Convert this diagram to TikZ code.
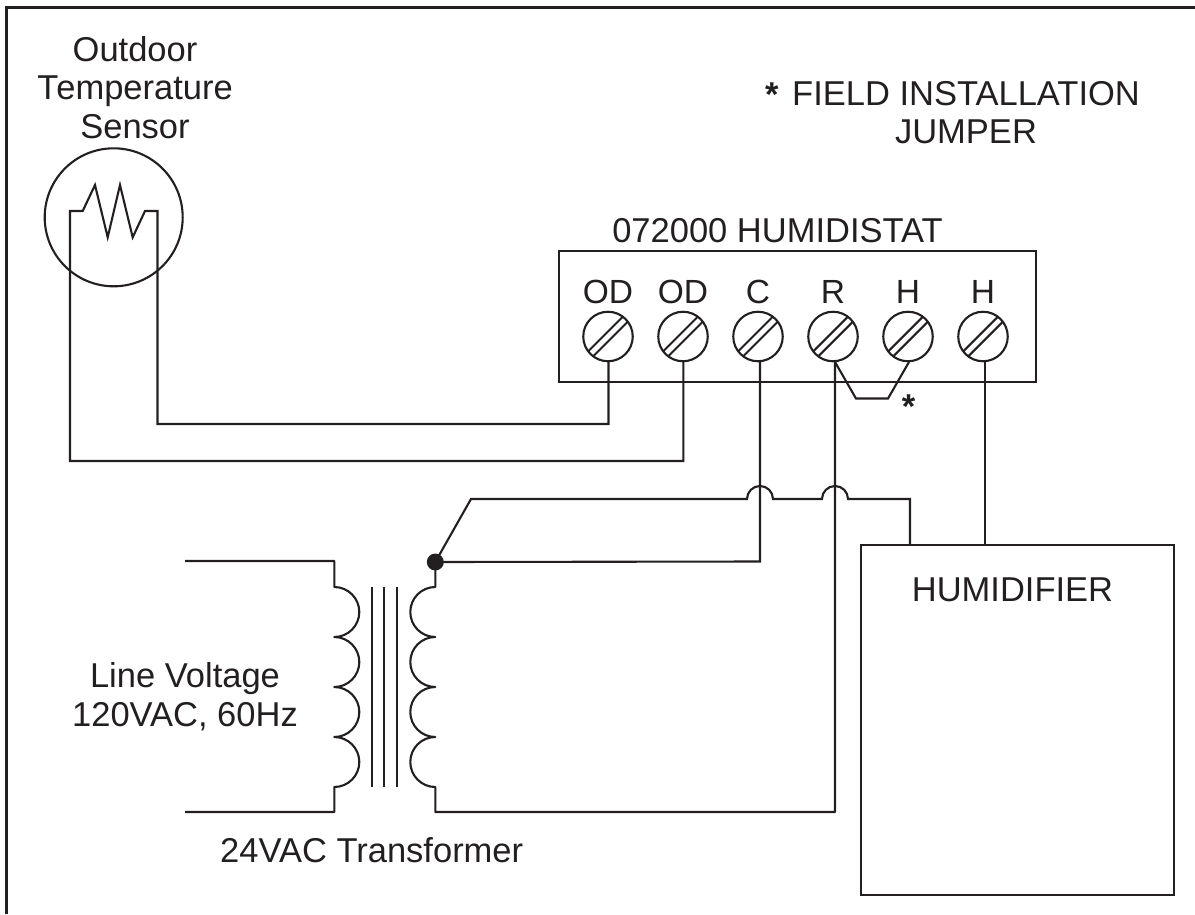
\documentclass[tikz,border=0pt]{standalone}
\usepackage{fontspec}
\setmainfont{Liberation Sans}
\usetikzlibrary{calc}
\definecolor{ink}{RGB}{35,31,32}
\tikzset{
  x=1pt,y=-1pt,
  wire/.style={draw=ink,line width=2.1pt,line join=miter},
  coil/.style={draw=ink,line width=2.1pt,line join=round},
  label/.style={text=ink,font=\fontsize{34.5pt}{38.5pt}\selectfont,inner sep=0pt,align=center},
  screw/.style={circle,draw=ink,line width=2.1pt,minimum size=49.5pt,inner sep=0pt,fill=white},
  terminal/.style={anchor=base,text=ink,font=\fontsize{33.5pt}{39.5pt}\selectfont,inner sep=0pt},
  boxed/.style={rectangle,draw=ink,line width=2.2pt,inner sep=0pt,anchor=north west},
}
\begin{document}
\begin{tikzpicture}
\useasboundingbox (0,0) rectangle (1195,914);
\coordinate (fbl) at (6.5,914);
\coordinate (ftl) at (6.5,7.5);
\coordinate (ftr) at (1195,7.5);
\draw[wire,line width=2.3pt] (fbl) -- (ftl) -- (ftr);
% sensor
\node[circle,draw=ink,line width=2.1pt,minimum size=138pt,inner sep=0pt] (sensor) at (113.7,217.3) {};
\node[label,anchor=base] (sensorlabel) at (135,138) {Outdoor\\T\kern-2pt emperature\\Sensor};
% humidistat
\node[boxed,minimum width=477pt,minimum height=131pt] (stat) at (558,250) {};
\node[label,anchor=base] (statlabel) at (777.5,242) {072000 HUMIDISTAT};
\foreach \n/\xx/\t in {1/608/OD,2/683/OD,3/758/C,4/833/R,5/908/H,6/983/H}{
  \node[screw] (s\n) at (\xx,336.5) {};
  \node[terminal] (t\n) at (\xx,303) {\t};
  \draw[wire,line cap=butt] ($(s\n)+(-20,15)$) -- ($(s\n)+(15,-20)$);
  \draw[wire,line cap=butt] ($(s\n)+(-15,20)$) -- ($(s\n)+(20,-15)$);
}
% transformer
\coordinate (lt) at (185,561);
\coordinate (lb) at (185,812);
\draw[coil] (lt) -- (334.3,561) -- (334.3,587)
  arc[start angle=-90,end angle=90,radius=25] arc[start angle=-90,end angle=90,radius=25]
  arc[start angle=-90,end angle=90,radius=25] arc[start angle=-90,end angle=90,radius=25]
  -- (334.3,812) -- (lb);
\foreach \xx in {371.7,384.3,397}{\draw[wire] (\xx,587) -- (\xx,787);}
\node[circle,fill=ink,minimum size=17pt,inner sep=0pt] (dot) at (435.3,562) {};
\draw[coil] (dot.center) -- (435.3,587)
  arc[start angle=-90,end angle=-270,radius=25] arc[start angle=-90,end angle=-270,radius=25]
  arc[start angle=-90,end angle=-270,radius=25] arc[start angle=-90,end angle=-270,radius=25]
  -- (435.3,812) -- (835,812) -- (835,362);
\draw[wire] (dot.center) -- (760,561.5) -- (760,362);
% humidifier
\node[boxed,minimum width=313pt,minimum height=350pt] (hum) at (860,544) {};
\node[label,anchor=base] (humlabel) at (1012.5,601) {HUMIDIFIER};
\draw[wire] (dot.center) -- (471,499) -- (747,499)
  arc[start angle=180,end angle=360,radius=13] -- (822,499)
  arc[start angle=180,end angle=360,radius=13] -- (910,499) -- (910,544);
\draw[wire] (985,362) -- (985,544);
% sensor wires
\draw[wire] (608.5,362) -- (608.5,424) -- (157.5,424) -- (157.5,211) -- (145,211) -- (132.7,237.3) -- (120,185) -- (107.7,237.3) -- (95,185) -- (82.7,211) -- (70,211) -- (70,461) -- (683.3,461) -- (683.3,362);
% jumper
\draw[wire] (835,362) -- (856,398.5) -- (888,398.5) -- (909,362);
\node[text=ink,inner sep=0pt,font=\bfseries\fontsize{34.5pt}{38.5pt}\selectfont,anchor=base] (star) at (908.5,418) {*};
\node[label,anchor=base west] (note1) at (765,105) {\raisebox{-1pt}{\bfseries *}\kern4pt\ FIELD INSTALLATION};
\node[label,anchor=base] (note2) at (966,143) {JUMPER};
\node[label,anchor=base] (line) at (185,726) {Line Voltage\\120VAC, 60Hz};
\node[label,anchor=base] (tr) at (371.7,862) {24VAC Transformer};
\end{tikzpicture}
\end{document}
